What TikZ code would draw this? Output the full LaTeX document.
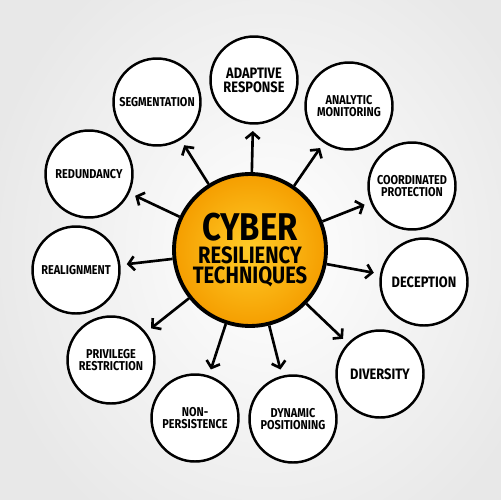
\documentclass[tikz,border=0pt]{standalone}
\usepackage{fontspec}
\newfontfamily\hand{Fira Sans}[FakeStretch=0.85]
\usetikzlibrary{arrows.meta}
\definecolor{orin}{RGB}{255,204,40}
\definecolor{orout}{RGB}{245,158,0}
\definecolor{bgout}{RGB}{232,232,232}
\newcommand{\hubline}[2]{\hbox to 0pt{\hss\smash{\fontsize{#1}{#1}\selectfont #2}\hss}}
\begin{document}
\begin{tikzpicture}[x=0.02cm,y=-0.02cm,
  topic/.style={circle,draw=black,line width=1.4pt,fill=white,minimum size=1.74cm,inner sep=0pt,align=center,font=\hand\bfseries\fontsize{7.3}{7}\selectfont},
  big/.style={font=\hand\bfseries\fontsize{8.6}{8}\selectfont},
  hub/.style={circle,draw=black,line width=2.2pt,shading=radial,inner color=orin,outer color=orout,minimum size=3.04cm,inner sep=0pt},
  hubtext/.style={inner sep=0pt,anchor=south,font=\hand\bfseries},
  link/.style={-{Straight Barb[length=3.4pt,width=8pt]},line width=1.5pt,shorten >=3.6pt}]
\useasboundingbox (0,0) rectangle (500,500);
\shade[inner color=white,outer color=bgout] (-20,-80) rectangle (560,580);
\node[hub] (hub) at (250,250) {};
\node[hubtext] (title) at (250,284) {\vbox{\offinterlineskip
  \hubline{22}{CYBER}\vskip 13pt
  \hubline{13.5}{RESILIENCY}\vskip 11.3pt
  \hubline{13.5}{TECHNIQUES}}};
\node[topic,big] (adapt) at (254,80) {ADAPTIVE\\RESPONSE};
\node[topic] (seg) at (157,102) {SEGMENTATION};
\node[topic] (ana) at (349,106) {ANALYTIC\\MONITORING};
\node[topic] (coord) at (412,186) {COORDINATED\\PROTECTION};
\node[topic,big] (dec) at (424,282) {DECEPTION};
\node[topic,big] (div) at (380,374) {DIVERSITY};
\node[topic] (dyn) at (293,419) {DYNAMIC\\POSITIONING};
\node[topic] (non) at (195,418) {NON-\\PERSISTENCE};
\node[topic] (priv) at (111,360) {PRIVILEGE\\RESTRICTION};
\node[topic] (real) at (76,270) {REALIGNMENT};
\node[topic] (red) at (89,174) {REDUNDANCY};
\foreach \t in {adapt,seg,ana,coord,dec,div,dyn,non,priv,real,red}
  \draw[link] (hub) -- (\t);
\end{tikzpicture}
\end{document}
